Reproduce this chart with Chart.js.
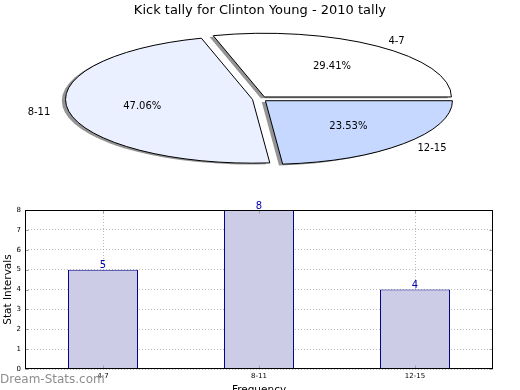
<!DOCTYPE html>
<html>
<head>
<meta charset="utf-8">
<script src="https://cdn.jsdelivr.net/npm/chart.js@4/dist/chart.umd.min.js"></script>
<style>
  html, body { margin:0; padding:0; background:#fff; width:520px; height:390px; overflow:hidden; }
  #pie { position:absolute; left:0; top:0; }
  #bar { position:absolute; left:0; top:200px; }
  #wm { position:absolute; left:0; top:372px; font-family:"DejaVu Sans"; font-size:12px; color:#8e8e8e; white-space:nowrap; }
</style>
</head>
<body>
<canvas id="pie" width="520" height="200"></canvas>
<canvas id="bar" width="520" height="200"></canvas>
<div id="wm">Dream-Stats.com</div>
<script>
// ---- data ----
const title = 'Kick tally for Clinton Young - 2010 tally';
const categories = ['4-7', '8-11', '12-15'];
const values = [5, 8, 4];
const pieColors = ['#FFFFFF', '#EAF0FF', '#C6D8FF'];
const yTicks = [0, 1, 2, 3, 4, 5, 6, 7, 8];
const xAxisTitle = 'Frequency';
const yAxisTitle = 'Stat Intervals';

// ---- pie (drawn clockwise from east in reverse order = matplotlib counter-clockwise order) ----
const pieLabels = categories.slice().reverse();
const pieValues = values.slice().reverse();
const pieFill = pieColors.slice().reverse();
const pieTotal = pieValues.reduce((a, b) => a + b, 0);

const SX = 2.936;      // horizontal stretch making the pie an ellipse
const EXPLODE = 0.04;  // explode fraction of radius
const FONT = '"DejaVu Sans"';

const ellipsePlugin = {
  id: 'ellipsePie',
  beforeDatasetsDraw(chart) {
    const ctx = chart.ctx;
    const meta = chart.getDatasetMeta(0);
    if (!meta.data.length) return false;
    const cx = meta.data[0].x, cy = meta.data[0].y;
    const dpr = chart.currentDevicePixelRatio || 1;
    ctx.save();
    ctx.translate(cx, cy); ctx.scale(SX, 1); ctx.translate(-cx, -cy);
    ctx.shadowColor = 'rgba(0,0,0,0.42)';
    ctx.shadowBlur = 0;
    ctx.shadowOffsetX = -3.7;
    ctx.shadowOffsetY = 1.3;
    const proto = Object.getPrototypeOf(ctx);
    ctx.stroke = function () {
      this.save();
      this.setTransform(dpr, 0, 0, dpr, 0, 0);
      this.shadowColor = 'rgba(0,0,0,0)';
      proto.stroke.call(this);
      this.restore();
    };
    meta.data.forEach(arc => {
      const mid = (arc.startAngle + arc.endAngle) / 2;
      const d = EXPLODE * arc.outerRadius;
      ctx.save();
      ctx.translate(Math.cos(mid) * d, Math.sin(mid) * d);
      arc.draw(ctx);
      ctx.restore();
    });
    delete ctx.stroke;
    ctx.restore();
    return false;
  },
  afterDraw(chart) {
    const ctx = chart.ctx;
    const meta = chart.getDatasetMeta(0);
    ctx.save();
    ctx.font = '10px ' + FONT;
    ctx.fillStyle = '#000';
    ctx.textBaseline = 'middle';
    meta.data.forEach((arc, i) => {
      const mid = (arc.startAngle + arc.endAngle) / 2;
      const R = arc.outerRadius;
      const c = Math.cos(mid), s = Math.sin(mid);
      const ox = arc.x + SX * EXPLODE * R * c;
      const oy = arc.y + EXPLODE * R * s;
      const pct = (pieValues[i] / pieTotal * 100).toFixed(2) + '%';
      ctx.textAlign = 'center';
      ctx.fillText(pct, ox + SX * 0.6 * R * c, oy + 0.6 * R * s);
      ctx.textAlign = c >= 0 ? 'left' : 'right';
      ctx.fillText(pieLabels[i], ox + SX * 1.1 * R * c, oy + 1.1 * R * s);
    });
    ctx.restore();
  }
};

new Chart(document.getElementById('pie'), {
  type: 'pie',
  data: {
    labels: pieLabels,
    datasets: [{ data: pieValues, backgroundColor: pieFill, borderColor: '#000', borderWidth: 1 }]
  },
  options: {
    responsive: false, animation: false, events: [],
    rotation: 90,
    radius: 63.7,
    layout: { padding: { left: 10, right: 10.2, top: 0, bottom: 32 } },
    plugins: {
      legend: { display: false },
      tooltip: { enabled: false },
      title: {
        display: true, text: title, color: '#000',
        font: { family: FONT, size: 13, weight: 'normal' },
        padding: { top: 2.5, bottom: 11.9 }
      }
    }
  },
  plugins: [ellipsePlugin]
});

// ---- bar chart ----
const barExtras = {
  id: 'barExtras',
  afterDatasetsDraw(chart) {
    const ctx = chart.ctx;
    const meta = chart.getDatasetMeta(0);
    ctx.save();
    ctx.font = '10px ' + FONT;
    ctx.fillStyle = '#0000AA';
    ctx.textAlign = 'center';
    ctx.textBaseline = 'alphabetic';
    meta.data.forEach((bar, i) => ctx.fillText(String(values[i]), bar.x, bar.y - 1.5));
    ctx.restore();
  },
  afterDraw(chart) {
    const ctx = chart.ctx;
    const a = chart.chartArea;
    const L = Math.round(a.left) + 0.5, R = Math.round(a.right) - 0.5;
    const T = Math.round(a.top) + 0.5, B = Math.round(a.bottom) - 0.5;
    ctx.save();
    // inner tick marks
    ctx.strokeStyle = '#a0a0a0';
    ctx.lineWidth = 1;
    ctx.beginPath();
    chart.scales.y.ticks.forEach(t => {
      const y = Math.round(chart.scales.y.getPixelForValue(t.value)) + 0.5;
      ctx.moveTo(L, y); ctx.lineTo(L + 3, y);
      ctx.moveTo(R, y); ctx.lineTo(R - 3, y);
    });
    chart.scales.x.ticks.forEach((t, i) => {
      const x = Math.round(chart.scales.x.getPixelForTick(i)) + 0.5;
      ctx.moveTo(x, B); ctx.lineTo(x, B - 3);
      ctx.moveTo(x, T); ctx.lineTo(x, T + 3);
    });
    ctx.stroke();
    // frame
    ctx.strokeStyle = '#000';
    ctx.strokeRect(L, T, R - L, B - T);
    ctx.restore();
  }
};

new Chart(document.getElementById('bar'), {
  type: 'bar',
  data: {
    labels: categories,
    datasets: [{
      data: values,
      backgroundColor: '#CCCCE6',
      borderColor: '#00008B',
      borderWidth: 1,
      barPercentage: 0.449,
      categoryPercentage: 1
    }]
  },
  options: {
    responsive: false, animation: false, events: [],
    layout: { padding: { left: 0, right: 27, top: 10, bottom: 0 } },
    plugins: { legend: { display: false }, tooltip: { enabled: false } },
    scales: {
      x: {
        z: 1,
        offset: true,
        grid: { offset: false, color: 'rgba(120,120,120,0.5)', drawTicks: false, lineWidth: 1 },
        border: { display: false, dash: [1, 2] },
        ticks: { color: '#000', font: { family: FONT, size: 7 }, padding: 3, maxRotation: 0 },
        title: { display: true, text: xAxisTitle, color: '#000', font: { family: FONT, size: 10.5 }, padding: { top: 0, bottom: 3.7 } },
        afterFit(s) { s.height = 31; }
      },
      y: {
        z: 1,
        min: 0, max: 8,
        afterBuildTicks(s) { s.ticks = yTicks.map(v => ({ value: v })); },
        grid: { color: 'rgba(120,120,120,0.5)', drawTicks: false, lineWidth: 1 },
        border: { display: false, dash: [1, 2] },
        ticks: { color: '#000', font: { family: FONT, size: 7 }, padding: 4 },
        title: { display: true, text: yAxisTitle, color: '#000', font: { family: FONT, size: 10.5 }, padding: { top: 2.4, bottom: 0 } },
        afterFit(s) { s.width = 25; }
      }
    }
  },
  plugins: [barExtras]
});
</script>
</body>
</html>
